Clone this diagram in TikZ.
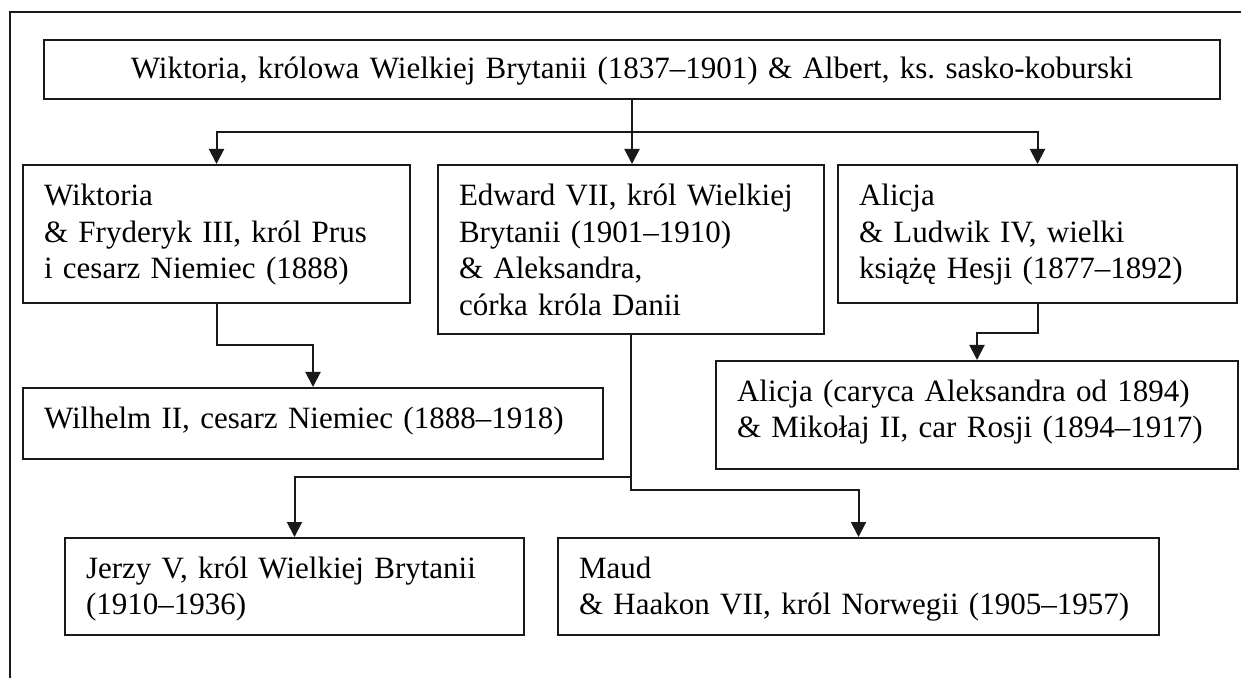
\documentclass[tikz,border=0pt]{standalone}
\usepackage{fontspec}
\setmainfont{Liberation Serif}
\usetikzlibrary{arrows.meta}
\frenchspacing

\begin{document}
\begin{tikzpicture}[x=0.5pt, y=-0.5pt,
	box/.style={draw=black!90, line width=1pt, rectangle, inner xsep=10.5pt, inner ysep=0pt, align=left, anchor=north west, font=\fontsize{15.5}{18.25}\selectfont, execute at begin node={\exhyphenpenalty=10000 }},
	arr/.style={draw=black!90, line width=1pt, -{Triangle[width=7.5pt,length=7.5pt]}}]
			\useasboundingbox (0,0) rectangle (1241,678);
			\draw[line width=1pt, black!90] (1241,12) -- (10,12) -- (10,678);
			\node[box, align=center, anchor=north, text width=567pt, text height=19.5pt, text depth=10pt] (victoria) at (632,39) {Wiktoria, królowa Wielkiej Brytanii (1837–1901) \& Albert, ks. sasko-koburski};
			\node[box, text width=172.5pt, text height=20.5pt, text depth=48.5pt] (wiktoria) at (22,164) {Wiktoria\\ \& Fryderyk III, król Prus\\ i cesarz Niemiec (1888)};
			\node[box, text width=172pt, text height=20.5pt, text depth=64pt] (edward) at (437,164) {Edward VII, król Wielkiej\\ Brytanii (1901–1910)\\ \& Aleksandra,\\ córka króla Danii};
			\node[box, text width=178.5pt, text height=20.5pt, text depth=48.5pt] (alicja) at (837,164) {Alicja\\ \& Ludwik IV, wielki\\ książę Hesji (1877–1892)};
			\node[box, text width=269pt, text height=20pt, text depth=15.5pt] (wilhelm) at (22,387) {Wilhelm II, cesarz Niemiec (1888–1918)};
			\node[box, text width=240pt, text height=20pt, text depth=34pt] (caryca) at (715,360) {Alicja (caryca Aleksandra od 1894)\\ \& Mikołaj II, car Rosji (1894–1917)};
			\node[box, text width=208.5pt, text height=20pt, text depth=28.5pt] (jerzy) at (64,537) {Jerzy V, król Wielkiej Brytanii\\ (1910–1936)};
			\node[box, text width=279.5pt, text height=20pt, text depth=28.5pt] (maud) at (557,537) {Maud\\ \& Haakon VII, król Norwegii (1905–1957)};
			\coordinate (split) at (632,132);
			\draw[line width=1pt, black!90] (victoria.south) -- (split);
			\draw[arr] (split) -| (wiktoria.north);
			\draw[arr] (split) -| (alicja.north);
			\draw[arr] (split) -- (split |- edward.north);
			\draw[arr] (wiktoria.south) -- ++(0,41) -| (wilhelm.north);
			\draw[arr] (alicja.south) -- ++(0,29) -| (caryca.north);
			\draw[arr] (edward.south) -- ++(0,142) -| (jerzy.north);
			\draw[arr] (edward.south) -- ++(0,155) -| (maud.north);
		\end{tikzpicture}
\end{document}
